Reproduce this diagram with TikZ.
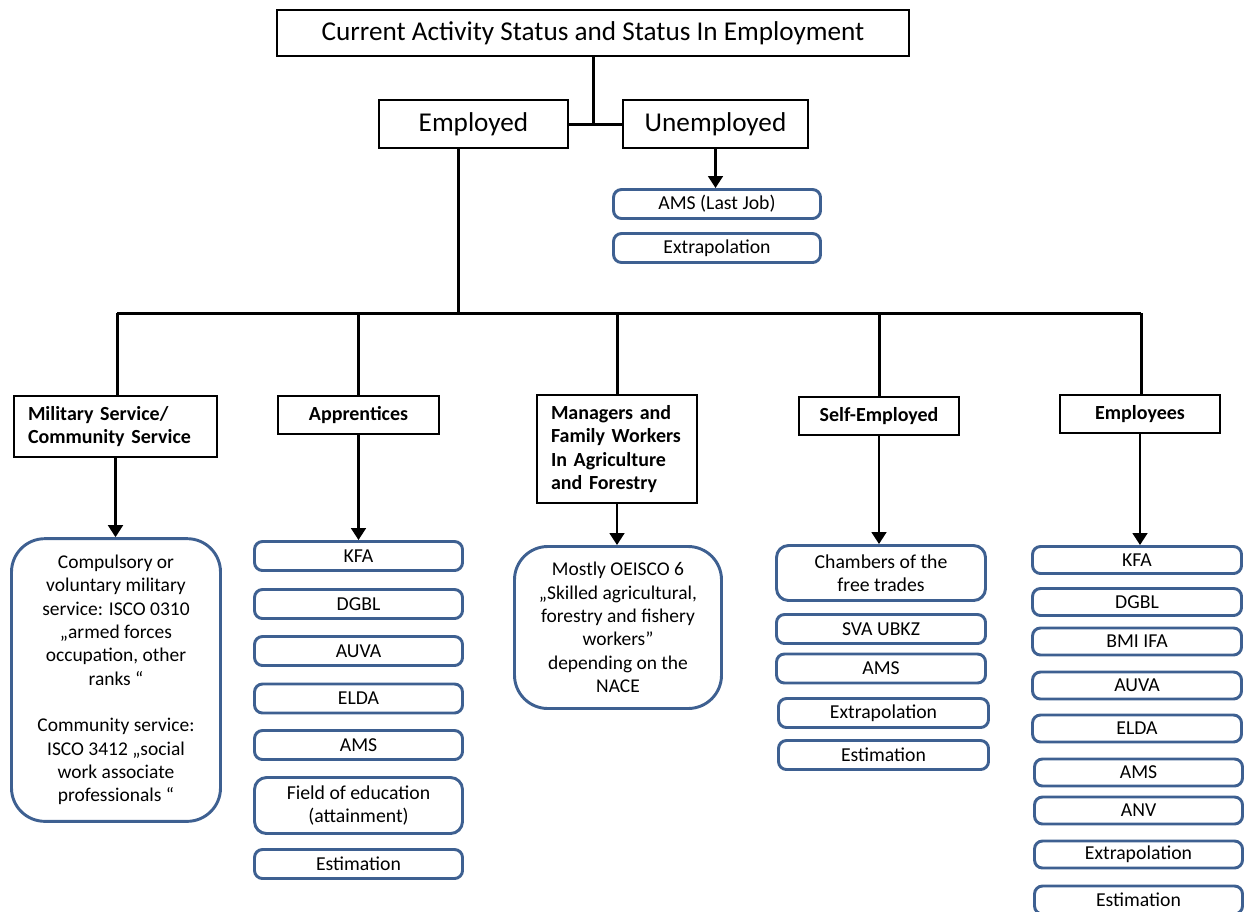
\documentclass[tikz,border=0pt]{standalone}
\usepackage{fontspec}
\setmainfont{Carlito}
\usetikzlibrary{arrows.meta}
\definecolor{boxblue}{RGB}{62,96,145}
\begin{document}
\begin{tikzpicture}[x=0.75pt,y=-0.75pt,
 hdr/.style={draw=black,line width=2pt,fill=white,inner sep=0pt},
 hbold/.style={hdr,font=\bfseries\fontsize{15}{17.6}\selectfont,align=center},
 hleft/.style={hdr,font=\bfseries\fontsize{15}{17.6}\selectfont,align=left,inner xsep=10.5pt},
 src/.style={draw=boxblue,line width=2.2pt,rounded corners=6pt,inner sep=0pt,align=center,font=\fontsize{14.8}{17.5}\selectfont,minimum height=21.75pt},
 big/.style={src,rounded corners=25pt,font=\fontsize{14.6}{17.5}\selectfont},
 conn/.style={line width=2.25pt},
 arr/.style={line width=2pt,-{Triangle[width=11pt,length=9pt]}},
]
\useasboundingbox (0,0) rectangle (1245,911);

% top level
\node[hdr, minimum width=474pt, minimum height=34.5pt, font=\fontsize{20.4}{24}\selectfont] (title) at (593,33) {Current Activity Status and Status In Employment};
\node[hdr, minimum width=141.75pt, minimum height=36pt, font=\fontsize{20.4}{24}\selectfont] (emp) at (473.5,124) {Employed};
\node[hdr, minimum width=138.75pt, minimum height=36pt, font=\fontsize{20.4}{24}\selectfont] (unemp) at (715.5,124) {Unemployed};

% unemployed sources
\node[src, minimum width=155.25pt] (u1) at (717,204) {AMS (Last Job)};
\node[src, minimum width=155.25pt] (u2) at (717,248) {Extrapolation};

% categories
\node[hleft, minimum width=152.25pt, minimum height=45.75pt, text width=131.25pt] (milh) at (115.5,426.5) {Military Service/\\Community Service};
\node[hbold, minimum width=120.75pt, minimum height=28.5pt] (apph) at (358.5,415) {Apprentices};
\node[hleft, minimum width=120pt, minimum height=81pt, text width=99pt] (mgrh) at (617,449) {Managers and\\Family Workers\\In Agriculture\\and Forestry};
\node[hbold, minimum width=120pt, minimum height=28.5pt] (selfh) at (879,416) {Self-Employed};
\node[hbold, minimum width=120pt, minimum height=28.5pt] (emph) at (1140,414) {Employees};

% military
\node[big, minimum width=156.75pt, minimum height=212pt] (milb) at (116,680) {Compulsory or\\voluntary military\\service: ISCO 0310\\„armed forces\\occupation, other\\ranks “\\[17.5pt]Community service:\\ISCO 3412 „social\\work associate\\professionals “};

% apprentices
\node[src, minimum width=156pt] (a1) at (358.5,556) {KFA};
\node[src, minimum width=156pt] (a2) at (358.5,604) {DGBL};
\node[src, minimum width=156pt] (a3) at (358.5,651) {AUVA};
\node[src, minimum width=156pt] (a4) at (358.5,698.5) {ELDA};
\node[src, minimum width=156pt] (a5) at (358.5,745) {AMS};
\node[src, minimum width=156pt, minimum height=42pt, rounded corners=9pt] (a6) at (358.5,805.5) {Field of education\\(attainment)};
\node[src, minimum width=156pt] (a7) at (358.5,864) {Estimation};

% managers
\node[big, minimum width=155.25pt, minimum height=121.5pt] (mgrb) at (618,627.5) {Mostly OEISCO 6\\„Skilled agricultural,\\forestry and fishery\\workers”\\depending on the\\NACE};

% self-employed
\node[src, minimum width=156.75pt, minimum height=41.25pt, rounded corners=9pt] (s1) at (881,573) {Chambers of the\\free trades};
\node[src, minimum width=156.75pt] (s2) at (881,629) {SVA UBKZ};
\node[src, minimum width=156.75pt] (s3) at (881,668.5) {AMS};
\node[src, minimum width=157.5pt] (s4) at (883.5,713) {Extrapolation};
\node[src, minimum width=157.5pt] (s5) at (883.5,755) {Estimation};

% employees
\node[src, minimum width=156.75pt, minimum height=20.25pt] (e1) at (1137,560) {KFA};
\node[src, minimum width=156.75pt, minimum height=20.25pt] (e2) at (1137,602) {DGBL};
\node[src, minimum width=156.75pt, minimum height=20.25pt] (e3) at (1137,641.5) {BMI IFA};
\node[src, minimum width=156.75pt, minimum height=20.25pt] (e4) at (1137,685.5) {AUVA};
\node[src, minimum width=156.75pt, minimum height=20.25pt] (e5) at (1137,728.5) {ELDA};
\node[src, minimum width=156pt, minimum height=20.25pt] (e6) at (1138.5,772.5) {AMS};
\node[src, minimum width=156pt, minimum height=20.25pt] (e7) at (1138.5,810.5) {ANV};
\node[src, minimum width=156pt, minimum height=20.25pt] (e8) at (1138.5,854.5) {Extrapolation};
\node[src, minimum width=156pt, minimum height=21pt] (e9) at (1138.5,900) {Estimation};

% connectors
\coordinate (hub) at (458,313);
\coordinate (barL) at (117,313);
\coordinate (barR) at (1141,313);
\draw[conn] (emp.east) -- (unemp.west);
\draw[conn] (title.south) -- (title.south |- emp.east);
\draw[conn] (emp.south -| hub) -- (hub);
\draw[conn] (barL) -- (barR);
\draw[conn] (barL) -- (barL |- milh.north);
\draw[conn] (apph.north |- hub) -- (apph.north);
\draw[conn] (mgrh.north |- hub) -- (mgrh.north);
\draw[conn] (selfh.north |- hub) -- (selfh.north);
\draw[conn] (barR) -- (barR |- emph.north);

\draw[arr] (unemp.south) -- (unemp.south |- u1.north);
\draw[arr] (milh.south) -- (milh.south |- milb.north);
\draw[arr] (apph.south) -- (apph.south |- a1.north);
\draw[arr] (mgrh.south) -- (mgrh.south |- mgrb.north);
\draw[arr] (selfh.south) -- (selfh.south |- s1.north);
\draw[arr] (emph.south) -- (emph.south |- e1.north);
\end{tikzpicture}
\end{document}
